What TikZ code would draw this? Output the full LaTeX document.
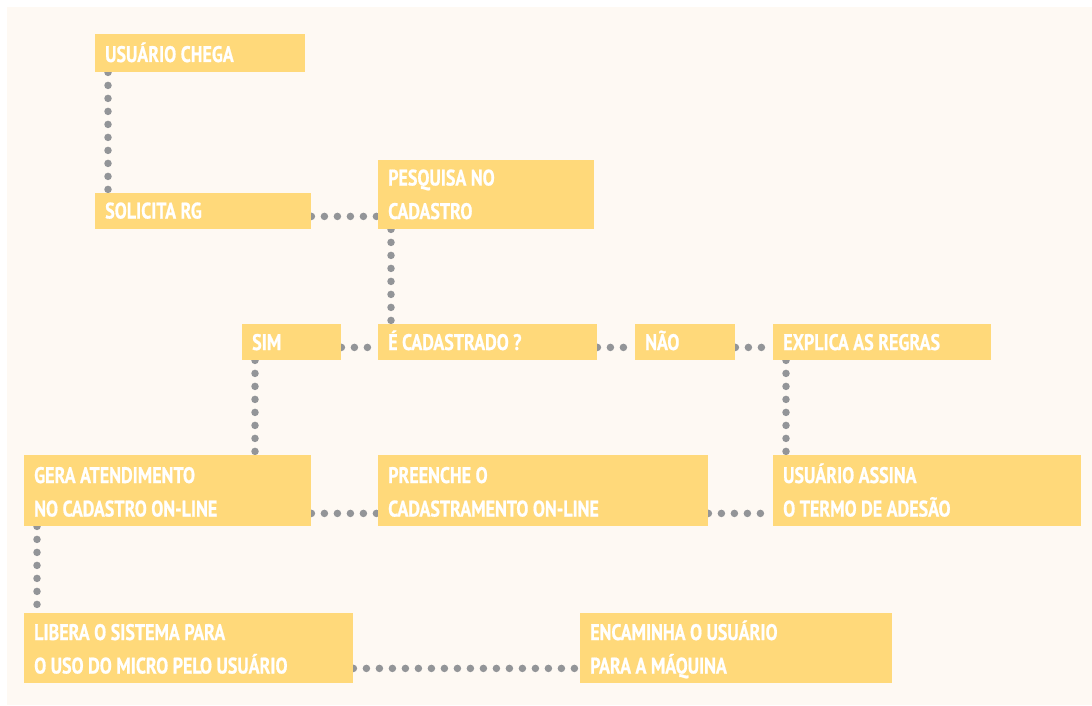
\documentclass[tikz,border=0pt]{standalone}
\usepackage{fontspec}
\setmainfont{PT Sans}[FakeStretch=0.8, BoldFeatures={FakeBold=0.8}]
\usetikzlibrary{calc}
\definecolor{boxfill}{HTML}{FFD97A}
\definecolor{cream}{HTML}{FEF9F3}
\definecolor{dotgray}{HTML}{939598}
\pgfdeclarelayer{back}
\pgfdeclarelayer{bg}
\pgfsetlayers{back,bg,main}
\newcommand{\tightsp}{\spaceskip=4.5pt plus 1pt minus 1pt\relax}
\tikzset{
  box/.style={fill=boxfill, draw=none, inner sep=0pt, anchor=north west},
  txt/.style={anchor=base west, inner sep=0pt, text=white, align=left, text width=320pt,
    font=\fontsize{22.5}{33.5}\selectfont\bfseries, execute at begin node=\tightsp},
  conn/.style={draw=dotgray, line width=7.5pt, line cap=round, dash pattern=on 0pt off 13pt}
}
\newcommand{\mybox}[7]{%
  \node[box, minimum width=#4pt, minimum height=#5pt] (#1) at (#2,#3) {};
  \node[txt] (#1-t) at ($(#1.north west)+(10,#6)$) {#7};
}
\begin{document}
\begin{tikzpicture}[x=1pt,y=-1pt]
\useasboundingbox (0,0) rectangle (1092,706);
\begin{pgfonlayer}{back}
\fill[cream] (7,7) rectangle (1092,705);
\end{pgfonlayer}
\mybox{uc}{95}{34}{210}{38}{28}{USUÁRIO CHEGA}
\mybox{sr}{95}{193}{216}{36}{25.5}{SOLICITA RG}
\mybox{pq}{378}{160}{216}{69}{25.5}{PESQUISA NO\\CADASTRO}
\mybox{sim}{242}{324}{99}{36}{26}{SIM}
\mybox{ec}{378}{324}{219}{36}{26}{É CADASTRADO ?}
\mybox{nao}{635}{324}{100}{36}{26}{NÃO}
\mybox{ex}{773}{324}{218}{36}{26}{EXPLICA AS REGRAS}
\mybox{ga}{24}{455}{287}{71}{28}{GERA ATENDIMENTO\\NO CADASTRO ON-LINE}
\mybox{pc}{378}{455}{330}{71}{28}{PREENCHE O\\CADASTRAMENTO ON-LINE}
\mybox{ua}{773}{455}{308}{71}{28}{USUÁRIO ASSINA\\O TERMO DE ADESÃO}
\mybox{lb}{24}{613}{329}{70}{27}{LIBERA O SISTEMA PARA\\O USO DO MICRO PELO USUÁRIO}
\mybox{em}{580}{613}{312}{70}{27}{ENCAMINHA O USUÁRIO\\PARA A MÁQUINA}
\begin{pgfonlayer}{bg}
% vertical connectors
\draw[conn] ([xshift=13pt]uc.south west) -- ([xshift=13pt]sr.north west);
\draw[conn] ([xshift=13pt]pq.south west) -- ([xshift=13pt]ec.north west);
\draw[conn] ([xshift=13pt]sim.south west) -- ([xshift=13pt]sim.south west |- ga.north);
\draw[conn] ([xshift=13pt]ex.south west) -- ([xshift=13pt]ua.north west);
\draw[conn] ([xshift=13pt]ga.south west) -- ([xshift=13pt]lb.north west);
% horizontal connectors
\draw[conn] ([yshift=13pt]sr.south east) -- ([yshift=13pt]sr.south east -| pq.west);
\draw[conn] ([yshift=13pt]sim.south east) -- ([yshift=13pt]ec.south west);
\draw[conn] ([yshift=13pt]ec.south east) -- ([yshift=13pt]nao.south west);
\draw[conn] ([yshift=13pt]nao.south east) -- ([yshift=13pt]ex.south west);
\draw[conn] ([yshift=13pt]ga.south east) -- ([yshift=13pt]pc.south west);
\draw[conn] ([yshift=13pt]pc.south east) -- ([yshift=13pt]ua.south west);
\draw[conn] ([yshift=15pt]lb.south east) -- ([yshift=15pt]em.south west);
\end{pgfonlayer}
\end{tikzpicture}
\end{document}
